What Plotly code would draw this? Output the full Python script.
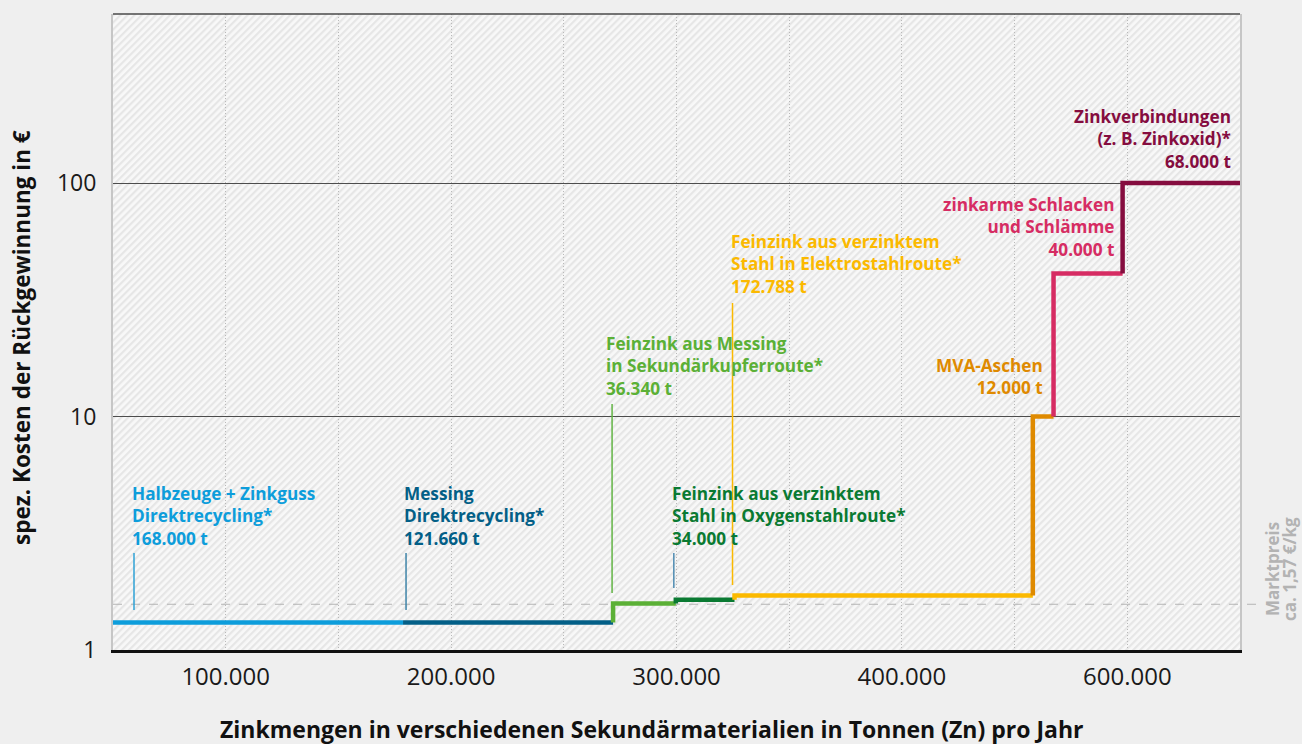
import base64
import plotly.graph_objects as go

# Zinc quantities per secondary material (t Zn per year) and specific recovery cost (EUR, log scale)
materials = [
    ["Halbzeuge + Zinkguss", "Direktrecycling*"],
    ["Messing", "Direktrecycling*"],
    ["Feinzink aus Messing", "in Sekundärkupferroute*"],
    ["Feinzink aus verzinktem", "Stahl in Oxygenstahlroute*"],
    ["Feinzink aus verzinktem", "Stahl in Elektrostahlroute*"],
    ["MVA-Aschen"],
    ["zinkarme Schlacken", "und Schlämme"],
    ["Zinkverbindungen", "(z. B. Zinkoxid)*"],
]
tonnes = [168000, 121660, 36340, 34000, 172788, 12000, 40000, 68000]
cost = [1.31, 1.31, 1.58, 1.64, 1.71, 10, 41, 100]
marktpreis = 1.57

x_ticklabels = ["100.000", "", "200.000", "", "300.000", "", "400.000", "", "600.000"]
y_ticks = [1, 10, 100]

# styling
colors = ["#0d9ddb", "#035f87", "#5bb036", "#0a7a32", "#fbb900", "#df8a00", "#d62c63", "#850d3f"]
callout_colors = ["#2fa2d6", "#3f84a8", "#63b445", "#4f8cb2", "#fbb900", None, None, None]
FONT = "Open Sans"
W, H = 1302, 744
L, R, T, B = 113, 62, 14, 94
plot_w, plot_h = W - L - R, H - T - B


def py(px):
    """pixel row -> paper y"""
    return (H - B - px) / plot_h


def px_x(px):
    """pixel column -> paper x"""
    return (px - L) / plot_w


def fmt_t(v):
    return f"{v:,}".replace(",", ".") + " t"


starts = [0]
for t in tonnes:
    starts.append(starts[-1] + t)
total = starts[-1]

fig = go.Figure()

# cost curve: one coloured step per material
for i, (c, col) in enumerate(zip(cost, colors)):
    prev = cost[i - 1] if i > 0 else c
    fig.add_trace(go.Scatter(
        x=[starts[i], starts[i], starts[i + 1]],
        y=[prev, c, c],
        mode="lines",
        line=dict(color=col, width=4.5),
        hoverinfo="skip",
        showlegend=False,
    ))

# label placement: (anchor at segment start or end, x pixel shift, align, middle row px)
label_pos = [
    ("start", 17, "left", 516),
    ("start", -1, "left", 516),
    ("start", -9, "left", 366),
    ("start", -6, "left", 516),
    ("start", -6, "left", 264),
    ("end", -9, "right", 377),
    ("end", -7, "right", 227),
    ("end", -7, "right", 139),
]
for i, (anchor, shift, align, ymid) in enumerate(label_pos):
    lines = materials[i] + [fmt_t(tonnes[i])]
    xa = starts[i] if anchor == "start" else starts[i + 1]
    fig.add_annotation(
        x=xa, xref="x", y=py(ymid), yref="paper",
        text="<br>".join(lines), showarrow=False,
        xanchor=align, yanchor="middle", align=align, xshift=shift,
        font=dict(family=FONT, size=17.2, color=colors[i], weight="bold"),
    )

# thin callout lines from labels down to the curve: (x pixel shift, top px, bottom px)
callouts = {0: (21, 553, 610), 1: (3, 553, 610), 2: (-1, 404, 593),
            3: (-2, 553, 588), 4: (-2, 303, 585)}
for i, (dx, top, bot) in callouts.items():
    fig.add_shape(
        type="line", xref="x", yref="paper", xsizemode="pixel", xanchor=starts[i],
        x0=dx, x1=dx, y0=py(top), y1=py(bot),
        line=dict(color=callout_colors[i], width=1.5), layer="above",
    )

# market price reference
fig.add_shape(type="line", xref="paper", yref="y", x0=0, x1=px_x(1256),
              y0=marktpreis, y1=marktpreis,
              line=dict(color="#b4b4b4", width=1, dash="dash"), layer="below")
mp_txt = f"{marktpreis:.2f}".replace(".", ",")
for txt, xc in (("Marktpreis", 1272), (f"ca. {mp_txt} €/kg", 1289)):
    fig.add_annotation(
        x=px_x(xc), xref="paper", y=py(569), yref="paper",
        text=txt, textangle=-90, showarrow=False,
        xanchor="center", yanchor="middle",
        font=dict(family=FONT, size=17, color="#b3b3b3", weight="bold"),
    )

# frame: dark top edge
fig.add_shape(type="line", xref="paper", yref="paper", x0=0, x1=1, y0=1, y1=1,
              line=dict(color="#4a4a4a", width=1.5))

# axis titles
fig.add_annotation(
    x=px_x(651), xref="paper", y=py(729), yref="paper",
    text="Zinkmengen in verschiedenen Sekundärmaterialien in Tonnen (Zn) pro Jahr",
    showarrow=False, xanchor="center", yanchor="middle",
    font=dict(family=FONT, size=23, color="#111111", weight="bold"),
)
fig.add_annotation(
    x=px_x(21), xref="paper", y=py(338), yref="paper",
    text="spez. Kosten der Rückgewinnung in €", textangle=-90,
    showarrow=False, xanchor="center", yanchor="middle",
    font=dict(family=FONT, size=22.5, color="#111111", weight="bold"),
)

# hatched plot background
hatch_svg = f"""<svg xmlns="http://www.w3.org/2000/svg" width="{plot_w}" height="{plot_h}">
<defs><pattern id="h" width="5" height="5" patternUnits="userSpaceOnUse" patternTransform="rotate(45)">
<rect width="5" height="5" fill="#f8f8f8"/><rect width="2.2" height="5" fill="#e6e6e6"/></pattern></defs>
<rect width="{plot_w}" height="{plot_h}" fill="url(#h)"/></svg>"""
fig.add_layout_image(
    source="data:image/svg+xml;base64," + base64.b64encode(hatch_svg.encode()).decode(),
    xref="paper", yref="paper", x=0, y=1, sizex=1, sizey=1,
    xanchor="left", yanchor="top", sizing="stretch", layer="below",
)

fig.update_xaxes(
    range=[0, total],
    tickvals=[total * k / 10 for k in range(1, 10)],
    ticktext=x_ticklabels,
    showgrid=True, gridcolor="#b9b9b9", griddash="1px,2px", gridwidth=1,
    showline=True, linecolor="#111111", linewidth=3,
    ticks="outside", ticklen=3, tickcolor="rgba(0,0,0,0)",
    tickfont=dict(family=FONT, size=24, color="#1a1a1a"),
    zeroline=False, fixedrange=True,
)
fig.update_yaxes(
    type="log", range=[0, 2.724],
    tickvals=y_ticks, ticktext=[str(v) for v in y_ticks],
    showgrid=True, gridcolor="#4d4d4d", gridwidth=1.3,
    showline=True, linecolor="#c6c6c6", linewidth=2, mirror=True,
    ticks="outside", ticklen=10, tickcolor="rgba(0,0,0,0)",
    tickfont=dict(family=FONT, size=23, color="#1a1a1a"),
    zeroline=False, fixedrange=True,
)
fig.update_layout(
    width=W, height=H,
    margin=dict(l=L, r=R, t=T, b=B),
    paper_bgcolor="#efefef", plot_bgcolor="#f3f3f3",
    showlegend=False,
)
fig.write_html("out.html", include_plotlyjs=True, config={"displayModeBar": False})
